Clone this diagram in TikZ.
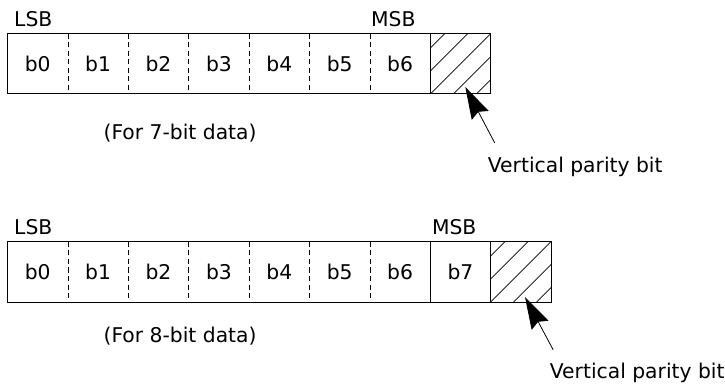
\documentclass[tikz,border=0pt]{standalone}
\usepackage{fontspec}
\setmainfont{DejaVu Sans}
\usetikzlibrary{arrows.meta,positioning}
\tikzset{
  cell/.style={minimum width=60.4pt, minimum height=60pt, inner sep=0pt, outer sep=0pt},
  par/.style={cell, path picture={
      \foreach \k in {-2,...,2}
        \draw[line width=0.7pt] ([xshift=\k*23pt]path picture bounding box.south west) -- ++(80pt,80pt);}},
  frm/.style={draw, line width=1pt},
  dv/.style={dash pattern=on 5pt off 3.5pt, line width=0.8pt},
  txt/.style={inner sep=0pt, anchor=base west},
  arr/.style={-{Stealth[length=32pt, width=19pt, inset=4pt]}, line width=0.8pt},
}
\begin{document}
\begin{tikzpicture}[x=1pt, y=-1pt, font=\fontsize{20.3}{24}\selectfont]
  \useasboundingbox (0,0) rectangle (725,387);
  % 7-bit frame
  \node[cell, anchor=north west] (s0) at (7.5,34) {b0};
  \node[cell, right=0pt of s0] (s1) {b1}; \node[cell, right=0pt of s1] (s2) {b2};
  \node[cell, right=0pt of s2] (s3) {b3}; \node[cell, right=0pt of s3] (s4) {b4};
  \node[cell, right=0pt of s4] (s5) {b5}; \node[cell, right=0pt of s5] (s6) {b6};
  \node[par, right=0pt of s6] (s7) {};
  \draw[frm] (s0.north west) rectangle (s7.south east); \draw[frm] (s6.north east)--(s6.south east);
  \draw[dv] (s0.north east)--(s0.south east); \draw[dv] (s1.north east)--(s1.south east);
  \draw[dv] (s2.north east)--(s2.south east); \draw[dv] (s3.north east)--(s3.south east);
  \draw[dv] (s4.north east)--(s4.south east); \draw[dv] (s5.north east)--(s5.south east);
  \node[txt] (lsbs) at ([xshift=6.5pt, yshift=7.5pt]s0.north west) {LSB};
  \node[txt] (msbs) at ([xshift=1pt, yshift=7.5pt]s6.north west) {MSB};
  \node[txt] (caps) at ([xshift=5.3pt, yshift=-46pt]s1.south) {(For 7-bit data)};
  \node[txt] (vps) at ([xshift=57.4pt, yshift=-79pt]s7.south west) {Vertical parity bit};
  \draw[arr] ([xshift=7pt, yshift=14.5pt]vps.north west) -- ([xshift=35pt, yshift=7pt]s7.south west);
  % 8-bit frame
  \node[cell, anchor=north west] (e0) at (7.5,242) {b0};
  \node[cell, right=0pt of e0] (e1) {b1}; \node[cell, right=0pt of e1] (e2) {b2};
  \node[cell, right=0pt of e2] (e3) {b3}; \node[cell, right=0pt of e3] (e4) {b4};
  \node[cell, right=0pt of e4] (e5) {b5}; \node[cell, right=0pt of e5] (e6) {b6};
  \node[cell, right=0pt of e6] (e7) {b7}; \node[par, right=0pt of e7] (e8) {};
  \draw[frm] (e0.north west) rectangle (e8.south east);
  \draw[frm] (e6.north east)--(e6.south east); \draw[frm] (e7.north east)--(e7.south east);
  \draw[dv] (e0.north east)--(e0.south east); \draw[dv] (e1.north east)--(e1.south east);
  \draw[dv] (e2.north east)--(e2.south east); \draw[dv] (e3.north east)--(e3.south east);
  \draw[dv] (e4.north east)--(e4.south east); \draw[dv] (e5.north east)--(e5.south east);
  \node[txt] (lsbe) at ([xshift=6.5pt, yshift=7.5pt]e0.north west) {LSB};
  \node[txt] (msbe) at ([xshift=1.5pt, yshift=7.5pt]e7.north west) {MSB};
  \node[txt] (cape) at ([xshift=5.3pt, yshift=-40pt]e1.south) {(For 8-bit data)};
  \node[txt] (vpe) at ([xshift=59pt, yshift=-76pt]e8.south west) {Vertical parity bit};
  \draw[arr] ([xshift=3.5pt, yshift=12.5pt]vpe.north west) -- ([xshift=34.3pt, yshift=5pt]e8.south west);
\end{tikzpicture}
\end{document}
